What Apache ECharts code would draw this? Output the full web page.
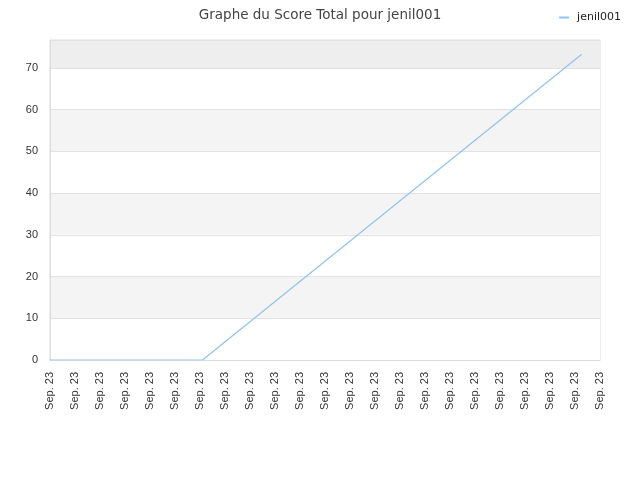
<!DOCTYPE html>
<html>
<head>
<meta charset="utf-8">
<script src="https://cdn.jsdelivr.net/npm/echarts@6/dist/echarts.min.js"></script>
<style>
  html, body { margin: 0; padding: 0; background: #fff; }
  #main { width: 640px; height: 480px; }
</style>
</head>
<body>
<div id="main"></div>
<script>
// x positions are in label steps (0 = first "Sep. 23"), y is the total score
const tickLabels = ['Sep. 23', 'Sep. 23', 'Sep. 23', 'Sep. 23', 'Sep. 23', 'Sep. 23',
  'Sep. 23', 'Sep. 23', 'Sep. 23', 'Sep. 23', 'Sep. 23', 'Sep. 23', 'Sep. 23',
  'Sep. 23', 'Sep. 23', 'Sep. 23', 'Sep. 23', 'Sep. 23', 'Sep. 23', 'Sep. 23',
  'Sep. 23', 'Sep. 23', 'Sep. 23'];
const stepX = [0, 6.1, 21.27];
const scores = [0, 0, 73.3];
const seriesName = 'jenil001';

let myChart = echarts.init(document.getElementById('main'));
myChart.setOption({
  animation: false,
  title: {
    text: 'Graphe du Score Total pour jenil001',
    left: 'center',
    top: 3,
    textStyle: { fontFamily: 'DejaVu Sans', fontSize: 13.5, fontWeight: 'normal', color: '#444' }
  },
  legend: {
    data: [seriesName],
    right: 14,
    top: 7,
    itemWidth: 10,
    itemHeight: 2,
    itemGap: 6,
    icon: 'rect',
    textStyle: { fontFamily: 'DejaVu Sans', fontSize: 11, color: '#222', padding: [0, 0, 0, 3] }
  },
  grid: {
    left: 50,
    right: 40,
    top: 40,
    bottom: 120,
    show: true,
    borderColor: '#dddddd',
    borderWidth: 1
  },
  xAxis: {
    type: 'value',
    min: 0,
    max: tickLabels.length - 1,
    interval: 1,
    axisLine: { show: true, lineStyle: { color: '#dddddd' } },
    axisTick: { show: false },
    splitLine: { show: false },
    axisLabel: {
      rotate: 90,
      margin: 12,
      fontFamily: 'Liberation Sans',
      fontSize: 11,
      color: '#333',
      formatter: function (v) { return tickLabels[Math.round(v)] || ''; }
    }
  },
  yAxis: {
    type: 'value',
    min: 0,
    max: 76.7,
    interval: 10,
    axisLine: { show: true, lineStyle: { color: '#dddddd' } },
    axisTick: { show: false },
    axisLabel: {
      margin: 12,
      fontFamily: 'Liberation Sans',
      fontSize: 11,
      color: '#333',
      showMaxLabel: false
    },
    splitLine: { show: true, lineStyle: { color: '#e2e2e2' } },
    splitArea: {
      show: true,
      areaStyle: { color: ['#ffffff', '#f4f4f4', '#ffffff', '#f4f4f4', '#ffffff', '#f4f4f4', '#ffffff', '#eeeeee'] }
    }
  },
  series: [
    {
      name: seriesName,
      type: 'line',
      data: stepX.map((x, i) => [x, scores[i]]),
      showSymbol: false,
      symbol: 'none',
      lineStyle: { color: '#8fc3f2', width: 1.2 },
      itemStyle: { color: '#8fc3f2' }
    }
  ]
});
</script>
</body>
</html>
